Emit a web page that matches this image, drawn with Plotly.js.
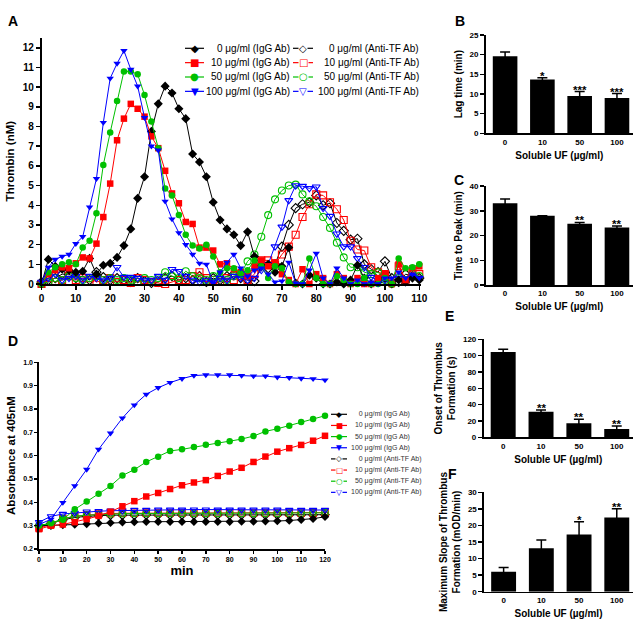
<!DOCTYPE html>
<html><head><meta charset="utf-8">
<script src="https://cdn.plot.ly/plotly-3.0.1.min.js"></script>
<style>html,body{margin:0;padding:0;background:#fff}#chart{width:640px;height:625px}</style>
</head><body><div id="chart"></div>
<script>
// ---------- Panel A: thrombin generation (min vs nM) ----------
const timeA = [0,2,4,6,8,10,12,14,16,18,20,22,24,26,28,30,32,34,36,38,40,42,44,46,48,50,52,54,56,58,60,62,64,66,68,70,72,74,76,78,80,82,84,86,88,90,92,94,96,98,100,102,104,106,108,110];
const iggA0   = [0,1.25,0.9,0.75,0.7,0.6,0.65,1.3,0.5,0.95,1.05,1.35,1.95,2.8,4.35,5.45,7.75,9.15,10.05,9.7,8.9,8.4,6.6,6.2,5.45,4.15,3.25,2.8,2.5,1.95,2.65,1.4,0.95,1.0,0.6,0.9,1.85,0.05,0,0.45,0.3,0,0,0.1,0,0.2,0.95,0.3,0,0.1,0.3,0,0.2,0.1,0.3,0.2];
const iggA10  = [0,0.5,0.7,0.85,0.8,1.05,1.35,1.3,2.05,3.4,5.1,7.3,8.4,9.15,8.9,8.5,7.5,6.9,5.75,4.6,4.1,3.15,3.05,1.85,1.85,1.7,1.0,1.05,0.75,0.6,0.4,0.9,1.2,0.9,1.1,0.5,0.2,0,0.75,0,0.5,0.3,0,0.5,0.3,0,0.3,0,0,0.3,0.5,0,1.0,0.2,0.8,0.9];
const iggA50  = [0,0.6,0.85,1.0,1.1,1.0,1.85,2.2,3.6,6.05,7.7,9.3,10.8,10.8,10.65,9.6,8.25,6.9,4.85,4.5,3.5,2.5,1.95,1.8,2.0,1.4,0.6,0.8,0.8,0.55,0.7,1.2,0.9,0.3,0.9,0.8,0.1,0,0,1.3,0.3,0,0,0.4,0.2,0,0,0.3,0,0,0.3,0,1.3,0.8,0.85,1.0];
const iggA100 = [0.1,0.85,1.25,1.4,1.5,2.05,2.4,3.9,5.35,8.2,10.45,11.2,11.85,10.9,10.05,8.45,7.0,6.8,4.2,3.3,2.6,2.0,1.5,1.05,1.0,0.05,0.6,1.1,1.5,0.8,0.4,0.7,0.8,0.5,0.1,0.15,1.1,0.05,0,0.7,1.55,0.3,0,0.8,0.3,0,0.2,0,0.1,0,0.3,0.3,0.6,0.3,0.5,0.3];
const antiA0   = [0.1,0.2,0.3,0.5,0.5,0.3,0.4,0.2,0.6,0.35,0.2,0.3,0.2,0.1,0.3,0.15,0.05,0.1,0.3,0.4,0.2,0.3,0.2,0.4,0.1,0.3,0.2,0.4,0.5,0.3,0.2,0.15,0.9,0.8,1.0,1.9,3.0,3.85,4.05,4.15,4.5,4.0,4.1,3.1,2.7,2.25,2.3,1.0,0.75,0.6,1.15,0.3,0.1,0.5,0.4,0.3];
const antiA10  = [0,0.3,0.1,0.2,0.4,0.2,0.3,0.3,0.1,0.2,0.3,0.1,0.2,0.05,0.3,0.2,0.1,0.05,0,0.1,0.2,0.2,0.4,0.6,0.3,0.2,0.1,0.3,0.2,0.4,0.2,0.5,1.2,1.2,1.0,1.5,1.9,2.5,3.4,4.05,4.55,4.5,4.15,3.8,3.25,2.2,1.75,1.7,0.85,0.6,0.5,0.15,0.9,0.15,0.6,0.5];
const antiA50  = [0,0.1,0.3,0.2,0.4,0.3,0.2,0.3,0.4,0.2,0.3,0.2,0.3,0.2,0.1,0.3,0.2,0.3,0.6,0.4,0.3,0.65,0.4,0.3,0.2,0.4,0.3,0.2,0.4,0.5,1.15,1.5,2.4,3.5,4.3,4.75,5.0,5.05,4.55,4.2,3.95,3.4,2.85,2.1,1.35,0.85,0.85,0.6,0.5,0.6,0.2,0,0.3,0.2,0.5,0.4];
const antiA100 = [0.1,0.3,0.5,0.2,0.3,0.4,0.2,0.4,0.3,0.2,0.3,0.85,0.35,0.35,0.3,0.2,0.2,0.4,0.2,0.75,0.65,0.4,0.2,0.1,0.2,0.1,0.3,0.2,0.4,0.3,0.2,0.3,0.7,1.0,1.9,2.9,4.25,5.0,4.97,4.86,4.94,3.85,3.45,2.55,1.9,1.9,1.3,0.85,0.35,0.2,0.2,0.1,0.3,0.1,0.4,0.3];

// ---------- Panel D: absorbance at 405 nM ----------
const timeD = [0,5,10,15,20,25,30,35,40,45,50,55,60,65,70,75,80,85,90,95,100,105,110,115,120];
const iggD0   = [0.30,0.30,0.303,0.305,0.307,0.31,0.312,0.315,0.316,0.317,0.317,0.317,0.317,0.317,0.317,0.317,0.317,0.318,0.318,0.319,0.32,0.322,0.325,0.33,0.338];
const iggD10  = [0.285,0.30,0.305,0.315,0.328,0.342,0.36,0.383,0.405,0.425,0.44,0.457,0.473,0.485,0.495,0.513,0.532,0.548,0.573,0.596,0.617,0.632,0.646,0.664,0.685];
const iggD50  = [0.30,0.31,0.325,0.37,0.403,0.437,0.47,0.515,0.54,0.573,0.595,0.62,0.627,0.637,0.647,0.654,0.662,0.671,0.684,0.704,0.715,0.728,0.744,0.757,0.771];
const iggD100 = [0.305,0.327,0.399,0.471,0.541,0.627,0.696,0.761,0.817,0.863,0.891,0.913,0.93,0.943,0.946,0.946,0.946,0.943,0.941,0.941,0.936,0.934,0.931,0.929,0.924];
const antiD0   = [0.30,0.31,0.325,0.335,0.34,0.343,0.345,0.345,0.345,0.346,0.346,0.346,0.346,0.346,0.346,0.346,0.346,0.346,0.346,0.346,0.346,0.346,0.346,0.346,0.347];
const antiD10  = [0.29,0.305,0.33,0.34,0.345,0.35,0.352,0.353,0.353,0.354,0.354,0.354,0.354,0.354,0.354,0.354,0.354,0.354,0.354,0.354,0.354,0.354,0.354,0.355,0.356];
const antiD50  = [0.30,0.31,0.33,0.34,0.345,0.348,0.35,0.351,0.352,0.352,0.352,0.352,0.352,0.352,0.352,0.352,0.352,0.352,0.352,0.352,0.352,0.353,0.353,0.354,0.355];
const antiD100 = [0.315,0.34,0.35,0.355,0.36,0.362,0.364,0.365,0.367,0.367,0.368,0.368,0.368,0.369,0.369,0.368,0.368,0.368,0.368,0.368,0.368,0.367,0.367,0.367,0.367];

// ---------- Bar panels B, C, E, F ----------
const doses = ['0','10','50','100'];
const lagMean = [19.6,13.7,9.5,9.0],     lagErr = [1.1,0.4,1.1,1.1],   lagSig = ['','*','***','***'];
const peakMean = [33.0,28.0,24.7,23.2],  peakErr = [1.7,0,0.6,0.6],    peakSig = ['','','**','**'];
const onsetMean = [104.5,31.2,17.2,10.2],onsetErr = [3.3,2.2,4.8,3.5], onsetSig = ['','**','**','**'];
const slopeMean = [6.0,13.1,17.3,22.4],  slopeErr = [1.3,2.5,3.8,2.6], slopeSig = ['','','*','**'];

// series styling / labels
const doseLabels = ['0','10','50','100'];
const colors = ['#000000','#ff0000','#00c000','#0000ff'];
const symbols = ['diamond','square','circle','triangle-down'];
const glyphFilled = ['\u25C6','\u25A0','\u25CF','\u25BC'];
const glyphOpen = ['\u25C7','\u25A1','\u25CB','\u25BD'];

const FONT = 'Liberation Sans, Arial, Helvetica, sans-serif';
const W = 640, H = 625;
const px = v => v / W, py = v => 1 - v / H;

const iggA = [iggA0, iggA10, iggA50, iggA100];
const antiA = [antiA0, antiA10, antiA50, antiA100];
const iggD = [iggD0, iggD10, iggD50, iggD100];
const antiD = [antiD0, antiD10, antiD50, antiD100];

const traces = [];
function lineTrace(x, y, i, open, xa, ya, msize, name) {
  return {
    type: 'scatter', mode: 'lines+markers', x: x, y: y, xaxis: xa, yaxis: ya,
    name: name, showlegend: false, cliponaxis: false,
    line: {color: colors[i], width: 1},
    marker: open
      ? {symbol: symbols[i] + '-open', size: msize, color: colors[i], line: {color: colors[i], width: 1.1}}
      : {symbol: symbols[i], size: msize, color: colors[i], line: {width: 0}}
  };
}
for (let i = 0; i < 4; i++) {
  traces.push(lineTrace(timeA, antiA[i], i, true, 'x', 'y', 7, doseLabels[i] + ' \u03BCg/ml (Anti-TF Ab)'));
}
for (let i = 0; i < 4; i++) {
  traces.push(lineTrace(timeA, iggA[i], i, false, 'x', 'y', i === 0 ? 7 : 6.5, doseLabels[i] + ' \u03BCg/ml (IgG Ab)'));
}
for (let i = 0; i < 4; i++) {
  traces.push(lineTrace(timeD, antiD[i], i, true, 'x2', 'y2', 6.5, doseLabels[i] + ' \u03BCg/ml (Anti-TF Ab)'));
}
for (let i = 0; i < 4; i++) {
  traces.push(lineTrace(timeD, iggD[i], i, false, 'x2', 'y2', 6.5, doseLabels[i] + ' \u03BCg/ml (IgG Ab)'));
}

const barSets = [
  {mean: lagMean, err: lagErr, sig: lagSig, xa: 'x3', ya: 'y3'},
  {mean: peakMean, err: peakErr, sig: peakSig, xa: 'x4', ya: 'y4'},
  {mean: onsetMean, err: onsetErr, sig: onsetSig, xa: 'x5', ya: 'y5'},
  {mean: slopeMean, err: slopeErr, sig: slopeSig, xa: 'x6', ya: 'y6'}
];
const annotations = [];
barSets.forEach(b => {
  traces.push({
    type: 'bar', x: doses, y: b.mean, xaxis: b.xa, yaxis: b.ya, width: 0.66,
    marker: {color: '#000', line: {width: 0}}, showlegend: false,
    error_y: {type: 'data', array: b.err, visible: true, color: '#000', thickness: 1.5, width: 5}
  });
  b.sig.forEach((s, k) => {
    if (!s) return;
    annotations.push({
      xref: b.xa, yref: b.ya, x: k, y: b.mean[k] + b.err[k], text: s,
      showarrow: false, xanchor: 'center', yanchor: 'bottom', yshift: -6,
      font: {family: FONT, size: 11.5, color: '#000', weight: 'bold'}
    });
  });
});

// panel letters
[['A', 13, 21], ['B', 460, 21], ['C', 459, 180], ['D', 13, 341], ['E', 449, 316], ['F', 452, 474]].forEach(p => {
  annotations.push({xref: 'paper', yref: 'paper', x: px(p[1]), y: py(p[2]), text: p[0], showarrow: false,
    xanchor: 'center', yanchor: 'middle', font: {family: FONT, size: 14, color: '#000', weight: 'bold'}});
});

// legend keys (panel A: two columns; panel D: one column)
const shapes = [];
function legendKey(x0, x1, y, i, open, gsize) {
  shapes.push({type: 'line', xref: 'paper', yref: 'paper', x0: px(x0), x1: px(x1), y0: py(y), y1: py(y),
    line: {color: colors[i], width: 1.2}});
  annotations.push({xref: 'paper', yref: 'paper', x: px((x0 + x1) / 2), y: py(y), text: (open ? glyphOpen : glyphFilled)[i],
    showarrow: false, xanchor: 'center', yanchor: 'middle', bgcolor: open ? '#ffffff' : 'rgba(0,0,0,0)', borderpad: 0,
    font: {family: 'DejaVu Sans', size: gsize, color: colors[i]}});
}
for (let i = 0; i < 4; i++) {
  const y = 48.3 + i * 14.35;
  legendKey(185, 204, y, i, false, 10);
  annotations.push({xref: 'paper', yref: 'paper', x: px(291.5), y: py(y), xanchor: 'right', yanchor: 'middle', showarrow: false,
    text: doseLabels[i] + ' \u03BCg/ml (IgG Ab)', font: {family: FONT, size: 10, color: '#000'}});
  legendKey(293, 313, y, i, true, 10);
  annotations.push({xref: 'paper', yref: 'paper', x: px(421), y: py(y), xanchor: 'right', yanchor: 'middle', showarrow: false,
    text: doseLabels[i] + ' \u03BCg/ml (Anti-TF Ab)', font: {family: FONT, size: 10, color: '#000'}});
}
const pad = ['\u00A0\u00A0\u00A0\u00A0', '\u00A0\u00A0', '\u00A0\u00A0', ''];
for (let r = 0; r < 8; r++) {
  const i = r % 4, open = r >= 4;
  const y = 414.3 + r * 11.15;
  legendKey(331, 347, y, i, open, 7.5);
  annotations.push({xref: 'paper', yref: 'paper', x: px(348.5), y: py(y), xanchor: 'left', yanchor: 'middle', showarrow: false,
    text: pad[i] + doseLabels[i] + ' \u03BCg/ml (' + (open ? 'Anti-TF Ab' : 'IgG Ab') + ')',
    font: {family: FONT, size: 7, color: '#333'}});
}

function axis(domain, extra) {
  return Object.assign({
    domain: domain, showline: true, linecolor: '#000', linewidth: 1.6, mirror: false,
    ticks: 'outside', ticklen: 4, tickwidth: 1.5, tickcolor: '#000',
    showgrid: false, zeroline: false, fixedrange: true,
    tickfont: {family: FONT, size: 8, color: '#000', weight: 'bold'},
    title: {font: {family: FONT, size: 10, color: '#000', weight: 'bold'}}
  }, extra);
}
function ttl(text, size, standoff) {
  return {text: text, standoff: standoff, font: {family: FONT, size: size, color: '#000', weight: 'bold'}};
}
const tf = s => ({family: FONT, size: s, color: '#000', weight: 'bold'});

const barX = (dom, anchor) => axis(dom, {type: 'category', range: [-0.52, 3.43], anchor: anchor, ticks: '',
  tickfont: tf(8), title: ttl('Soluble UF (\u00B5g/ml)', 10, 6)});

const layout = {
  width: W, height: H, autosize: false, margin: {l: 0, r: 0, t: 0, b: 0},
  paper_bgcolor: '#fff', plot_bgcolor: '#fff', showlegend: false,
  font: {family: FONT, color: '#000'},
  xaxis: axis([px(41.5), px(421)], {range: [0, 110.5], dtick: 10, tick0: 0, anchor: 'y', tickfont: tf(10), title: ttl('min', 11, 4)}),
  yaxis: axis([py(284), py(38.3)], {range: [0, 12.48], dtick: 1, tick0: 0, anchor: 'x', tickfont: tf(10), title: ttl('Thrombin (nM)', 11.5, 6)}),
  xaxis2: axis([px(39), px(325)], {range: [0, 120], dtick: 10, tick0: 0, anchor: 'y2', ticklen: 3, tickfont: tf(7), title: ttl('min', 13, 4)}),
  yaxis2: axis([py(549), py(362.3)], {range: [0.2, 1.0], dtick: 0.1, tick0: 0.2, tickformat: '.1f', anchor: 'x2', ticklen: 3, tickfont: tf(7), title: ttl('Absorbance at 405nM', 11.5, 5)}),
  xaxis3: barX([px(485.7), px(633)], 'y3'),
  yaxis3: axis([py(133.3), py(35)], {range: [0, 25], dtick: 5, anchor: 'x3', title: ttl('Lag time (min)', 10, 5)}),
  xaxis4: barX([px(485.7), px(633)], 'y4'),
  yaxis4: axis([py(285), py(186)], {range: [0, 40], dtick: 10, anchor: 'x4', title: ttl('Time to Peak (min)', 10, 5)}),
  xaxis5: barX([px(483.5), px(633)], 'y5'),
  yaxis5: axis([py(437.3), py(339.3)], {range: [0, 120], dtick: 20, anchor: 'x5', title: ttl('Onset of Thrombus<br>Formation (s)', 10, 5)}),
  xaxis6: barX([px(484), px(633)], 'y6'),
  yaxis6: axis([py(591.7), py(492.3)], {range: [0, 30], dtick: 5, anchor: 'x6', title: ttl('Maximum Slope of Thrombus<br>Formation (mOD/min)', 10, 5)}),
  annotations: annotations,
  shapes: shapes
};

Plotly.newPlot('chart', traces, layout, {displayModeBar: false, staticPlot: true});
</script>
</body></html>
